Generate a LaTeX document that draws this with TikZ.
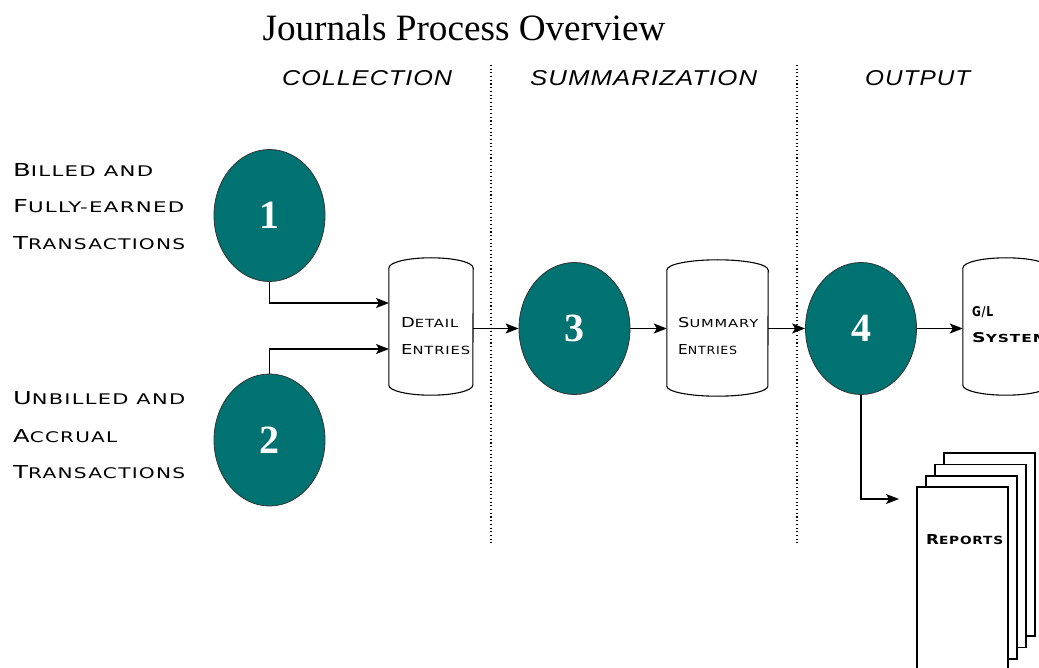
\documentclass[tikz,border=0pt]{standalone}
\usepackage{fontspec}
\usepackage{graphicx}
\setmainfont{Liberation Serif}
\newfontfamily\widesans[LetterSpace=6]{DejaVu Sans}
\newfontfamily\headsans[LetterSpace=4]{Liberation Sans}
\usetikzlibrary{shapes.geometric,arrows.meta,calc}
\definecolor{tealfill}{RGB}{0,114,114}
\newcommand\fitbox[3]{\resizebox{#1pt}{#2pt}{#3}}
\newcommand\sct[2]{{\widesans\fontsize{14}{14}\selectfont #1\fontsize{11.5}{11.5}\selectfont #2}}
\newcommand\scb[2]{{\widesans\bfseries\fontsize{14}{14}\selectfont #1\fontsize{11.5}{11.5}\selectfont #2}}
\newcommand\cylsides[3]{%
  \draw[cylline] ($(#1.north)+(0,#3)$) ellipse [x radius=#2pt, y radius=#3pt];
  \draw[cylline] ($(#1.north west)+(0,#3)$) -- ($(#1.south west)+(0,-#3)$)
     arc[start angle=180, end angle=360, x radius=#2pt, y radius=#3pt]
     -- ($(#1.north east)+(0,#3)$);}
\tikzset{
  proc/.style={ellipse, draw=black!80, line width=0.8pt, fill=tealfill, inner sep=0pt,
     minimum width=111pt, minimum height=132pt, text=white,
     font=\fontsize{40}{40}\selectfont\bfseries},
  cylbox/.style={rectangle, draw=none, inner sep=0pt},
  cylline/.style={line width=1.1pt, fill=white},
  arr/.style={line width=1.2pt, -{Stealth[length=13pt,width=10pt,inset=3pt]}},
  page/.style={rectangle, draw=black, line width=1.1pt, fill=white, inner sep=0pt,
     minimum width=91pt, minimum height=183pt},
  txt/.style={inner sep=0pt, anchor=base west},
  sep/.style={line width=1.1pt, dash pattern=on 1.1pt off 2.6pt, black},
}
\begin{document}
\begin{tikzpicture}[x=1pt,y=-1pt]
\clip (0,0) rectangle (1039,668);
\fill[white] (0,0) rectangle (1039,668);

% title
\node[inner sep=0pt, anchor=base] (title) at (464,41) {\fontsize{37.2}{37.2}\selectfont Journals Process Overview};

% headers
\node[inner sep=0pt, anchor=base west] (h1) at (282,86) {\fitbox{170}{15}{\headsans\itshape COLLECTION}};
\node[inner sep=0pt, anchor=base west] (h2) at (530,86) {\fitbox{227}{15}{\headsans\itshape SUMMARIZATION}};
\node[inner sep=0pt, anchor=base west] (h3) at (865,86) {\fitbox{105}{15}{\headsans\itshape OUTPUT}};

% separators
\coordinate (s1a) at (491,65); \coordinate (s1b) at (491,545);
\coordinate (s2a) at (797,65); \coordinate (s2b) at (797,545);
\draw[sep] (s1a) -- (s1b);
\draw[sep] (s2a) -- (s2b);

% left labels
\node[txt] (l1) at (13,177) {\fitbox{140}{13}{\sct{B}{ILLED AND}}};
\node[txt] (l2) at (13,213) {\fitbox{171}{13}{\sct{F}{ULLY-EARNED}}};
\node[txt] (l3) at (13,250) {\fitbox{172}{13}{\sct{T}{RANSACTIONS}}};
\node[txt] (l4) at (13,404) {\fitbox{172}{13}{\sct{U}{NBILLED AND}}};
\node[txt] (l5) at (13,442) {\fitbox{104}{13}{\sct{A}{CCRUAL}}};
\node[txt] (l6) at (13,478) {\fitbox{172}{13}{\sct{T}{RANSACTIONS}}};

% processes
\node[proc] (e1) at (269.5,215.5) {1};
\node[proc] (e2) at (269.5,440) {2};
\node[proc] (e3) at (574.5,328.5) {3};
\node[proc] (e4) at (861,328.5) {4};

% cylinders
\node[cylbox, minimum width=84pt, minimum height=137pt] (det) at (431,326.5) {};
\node[cylbox, minimum width=101pt, minimum height=136pt] (sum) at (717.5,328) {};
\node[cylbox, minimum width=86pt, minimum height=137pt] (gl) at (1006,326.5) {};
\cylsides{det}{42}{10}
\cylsides{sum}{50.5}{10}
\cylsides{gl}{43}{10}

\node[txt] (t1) at (401,327) {\fitbox{57}{10}{\sct{D}{ETAIL}}};
\node[txt] (t2) at (401,354) {\fitbox{69}{10}{\sct{E}{NTRIES}}};
\node[txt] (t3) at (678,327) {\fitbox{80}{10}{\sct{S}{UMMARY}}};
\node[txt] (t4) at (678,354) {\fitbox{59}{10}{\sct{E}{NTRIES}}};
\node[txt] (t5) at (972,317) {\fitbox{21}{10}{\scb{G/L}{}}};
\node[txt] (t6) at (972,342) {\fitbox{76}{10}{\scb{S}{YSTEM}}};

% reports stack
\node[page] (p4) at (989.5,544.5) {};
\node[page] (p3) at (980.5,556) {};
\node[page] (p2) at (971.5,567.5) {};
\node[page] (p1) at (962.5,578.5) {};
\node[txt] (rt) at (926,544) {\fitbox{77}{10}{\scb{R}{EPORTS}}};

% connectors
\coordinate (d1) at (389,303);
\coordinate (d2) at (389,349);
\coordinate (rp) at (899,499);
\draw[arr] (e1.south) |- (d1);
\draw[arr] (e2.north) |- (d2);
\draw[arr] (det.east |- e3.west) -- (e3.west);
\draw[arr] (e3.east) -- (sum.west |- e3.east);
\draw[arr] (sum.east |- e4.west) -- (e4.west);
\draw[arr] (e4.east) -- (gl.west |- e4.east);
\draw[arr] (e4.south) |- (rp);
\end{tikzpicture}
\end{document}
